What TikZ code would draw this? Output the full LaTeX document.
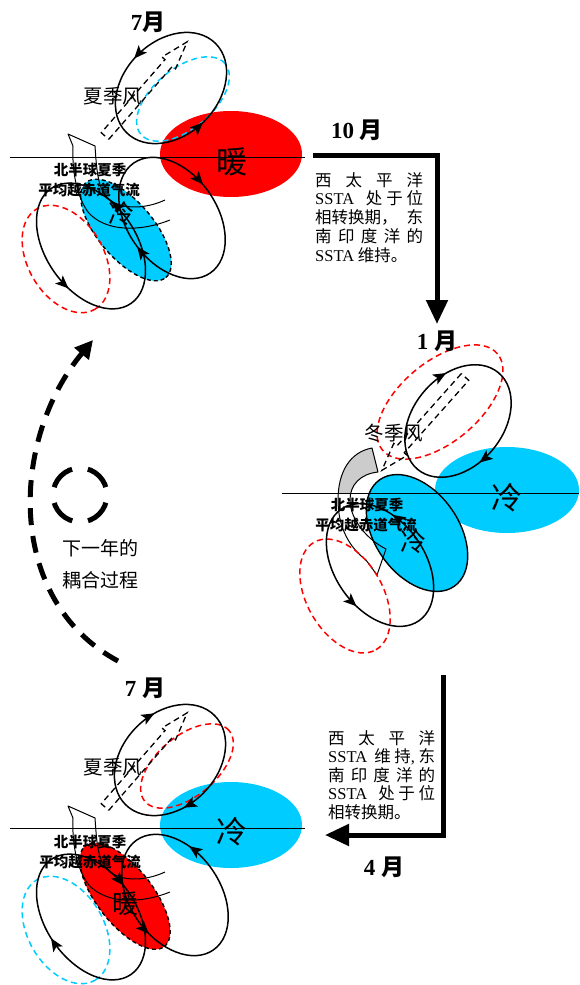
\documentclass[tikz,border=0pt]{standalone}
\usepackage{fontspec}
\setmainfont{Liberation Serif}
\newfontfamily\cjk{Noto Sans CJK SC}
\usetikzlibrary{arrows.meta,decorations.markings}
\definecolor{warmred}{RGB}{255,0,0}
\definecolor{coldblue}{RGB}{0,204,255}
\definecolor{bandgray}{RGB}{204,204,204}

\tikzset{
  gtip/.tip={Stealth[length=13pt,width=11pt,inset=3pt]},
  gyre/.style={draw=black, line width=1.5pt},
  fwd/.style={postaction={decorate, decoration={markings, mark=at position #1 with {\arrow{gtip}}}}},
  bwd/.style={postaction={decorate, decoration={markings, mark=at position #1 with {\arrowreversed{gtip}}}}},
  ringred/.style={draw=warmred, line width=1.5pt, dash pattern=on 6pt off 4pt},
  ringcyan/.style={draw=coldblue, line width=1.5pt, dash pattern=on 6pt off 4pt},
  patch/.style={draw=black, line width=1.4pt, dash pattern=on 4pt off 3pt},
  equator/.style={draw=black, line width=1pt},
  monsoon/.style={draw=black, line width=1.3pt, dash pattern=on 6pt off 4pt},
  band/.style={draw=black, line width=1pt, line join=round},
  bigarrow/.style={draw=black, line width=5pt, line join=miter, -{Triangle[length=24pt,width=21pt]}},
  nextyear/.style={draw=black, line width=5pt, dash pattern=on 17pt off 11pt, -{Triangle[length=18pt,width=18pt]}},
  title/.style={font=\fontsize{23}{26}\selectfont\bfseries, inner sep=0pt},
  bigword/.style={font=\cjk\fontsize{31}{33}\selectfont, inner sep=0pt},
  midword/.style={font=\cjk\fontsize{26}{28}\selectfont, inner sep=0pt},
  wind/.style={font=\cjk\fontsize{19.5}{22}\selectfont, inner sep=0pt},
  flow/.style={font=\cjk\bfseries\fontsize{14.5}{16}\selectfont, inner sep=0pt},
  para/.style={font=\cjk\fontsize{16.5}{18}\selectfont, inner sep=0pt, anchor=base west},
  story/.style={font=\cjk\fontsize{19}{22}\selectfont, inner sep=0pt},
}

% slim dashed block arrow: tail point, heading angle, length
\newcommand\monsoonarrow[3]{%
  \begin{scope}[shift={#1}, rotate=#2]
    \draw[monsoon] (0,5) -- (#3-28,5) -- (#3-28,9) -- (#3,0) -- (#3-28,-9) -- (#3-28,-5) -- (0,-5) -- cycle;
  \end{scope}}

% summer cross-equatorial flow band (open at its tail)
\def\summerband{(170,220) .. controls (140,232) and (105,232) .. (88,212)
  .. controls (76,195) and (72,170) .. (73,146) -- (68,134) -- (95,146)
  .. controls (97,175) and (98,195) .. (115,203) .. controls (130,210) and (150,207) .. (165,200)}
% winter cross-equatorial flow band
\def\winterband{(372,448) .. controls (350,452) and (338,472) .. (338,500)
  .. controls (338,528) and (350,548) .. (366,560) -- (377,575) -- (386,549)
  .. controls (368,540) and (350,520) .. (350,500) .. controls (350,485) and (360,474) .. (378,472) -- cycle}

\begin{document}
\begin{tikzpicture}[x=1pt,y=-1pt]
\useasboundingbox (0,0) rectangle (579,985);
\fill[white] (0,0) rectangle (579,985);

% ================= July (top) =================
\fill[warmred] (231,154) ellipse [x radius=71pt, y radius=43pt];
\filldraw[fill=coldblue, patch, rotate around={-50:(126,230)}] (126,230) ellipse [x radius=62pt, y radius=28pt];
\coordinate (eqAl) at (10,157); \coordinate (eqAr) at (305,157);
\draw[equator] (eqAl) -- (eqAr);
\draw[ringcyan, rotate around={40:(183,99)}] (183,99) ellipse [x radius=55pt, y radius=30pt];
\draw[ringred, rotate around={-60:(66,259)}] (66,259) ellipse [x radius=58pt, y radius=38pt];
\draw[gyre, rotate around={45:(171,88)}, fwd=0.265, fwd=0.745] (171,88) ellipse [x radius=63pt, y radius=47pt];
\draw[gyre, rotate around={-55:(172,218)}, bwd=0.277, bwd=0.76] (172,218) ellipse [x radius=67pt, y radius=45pt];
\draw[gyre, rotate around={-55:(91,246)}, fwd=0.317, fwd=0.81] (91,246) ellipse [x radius=70pt, y radius=45pt];
\draw[band] \summerband;
\monsoonarrow{(105,136)}{48.9}{125}

\node[title] (julA) at (148,22) {7{\cjk 月}};
\node[wind] (windA) at (113,96) {夏季风};
\node[flow] (flowA1) at (90,170) {北半球夏季};
\node[flow] (flowA2) at (89,190) {平均越赤道气流};
\node[bigword] (warmA) at (232,162) {暖};
\node[midword] (coldA) at (121,214) {冷};

% arrow July -> October -> January
\coordinate (stA) at (313,155); \coordinate (stB) at (437,155); \coordinate (stC) at (437,324);
\draw[bigarrow] (stA) -- (stB) -- (stC);
\node[title] (octA) at (357,130) {10 {\cjk 月}};
\node[para] (pa1) at (315,186) {\makebox[108pt][s]{西\hfill 太\hfill 平\hfill 洋}};
\node[para] (pa2) at (315,204.5) {\makebox[108pt][s]{{\rmfamily SSTA}\hspace{0pt plus 3fill}处\hspace{0pt plus 1fill}于\hspace{0pt plus 1fill}位}};
\node[para] (pa3) at (315,223) {\makebox[108pt][s]{相转换期，\hfill 东}};
\node[para] (pa4) at (315,242) {\makebox[108pt][s]{南\hfill 印\hfill 度\hfill 洋\hfill 的}};
\node[para] (pa5) at (315,261) {{\rmfamily SSTA} 维持。};

% ================= January (right) =================
\fill[coldblue] (507,490) ellipse [x radius=72pt, y radius=43pt];
\filldraw[fill=coldblue, draw=black, line width=1.4pt, rotate around={-55:(417,533)}] (417,533) ellipse [x radius=65pt, y radius=42pt];
\begin{scope}
  \clip (282,400) rectangle (420,493);
  \fill[bandgray] \winterband;
\end{scope}
\draw[band] \winterband;
\coordinate (eqBl) at (282,493); \coordinate (eqBr) at (579,493);
\draw[equator] (eqBl) -- (eqBr);
\draw[ringred, rotate around={40:(440,402)}] (440,402) ellipse [x radius=75pt, y radius=40pt];
\draw[ringred, rotate around={-60:(345,596)}] (345,596) ellipse [x radius=62pt, y radius=38pt];
\draw[gyre, rotate around={50:(458,421)}, bwd=0.163, bwd=0.697] (458,421) ellipse [x radius=63pt, y radius=45pt];
\draw[gyre, rotate around={-55:(380,565)}, fwd=0.347, fwd=0.807] (380,565) ellipse [x radius=68pt, y radius=45pt];
\monsoonarrow{(465,377)}{-131.7}{125}

\node[title] (janB) at (437,341) {1 {\cjk 月}};
\node[wind] (windB) at (394,433) {冬季风};
\node[flow] (flowB1) at (367,505) {北半球夏季};
\node[flow] (flowB2) at (366,525) {平均越赤道气流};
\node[bigword] (coldB1) at (507,498) {冷};
\node[midword] (coldB2) at (413,542) {冷};

% arrow January -> April -> July
\coordinate (ndA) at (443,675); \coordinate (ndB) at (443,835); \coordinate (ndC) at (325,835);
\draw[bigarrow] (ndA) -- (ndB) -- (ndC);
\node[title] (aprC) at (384,867) {4 {\cjk 月}};
\node[para] (pc1) at (328,744) {\makebox[107pt][s]{西\hfill 太\hfill 平\hfill 洋}};
\node[para] (pc2) at (328,762.5) {\makebox[107pt][s]{{\rmfamily SSTA}\hspace{0pt plus 2fill}维\hspace{0pt plus 1fill}持{\rmfamily ,}\hspace{0pt plus 1fill}东}};
\node[para] (pc3) at (328,781) {\makebox[107pt][s]{南\hfill 印\hfill 度\hfill 洋\hfill 的}};
\node[para] (pc4) at (328,799.5) {\makebox[107pt][s]{{\rmfamily SSTA}\hspace{0pt plus 3fill}处\hspace{0pt plus 1fill}于\hspace{0pt plus 1fill}位}};
\node[para] (pc5) at (328,818) {相转换期。};

% ================= next July (bottom) =================
\fill[coldblue] (231,825) ellipse [x radius=71pt, y radius=43pt];
\filldraw[fill=warmred, patch, rotate around={-52:(125,896)}] (125,896) ellipse [x radius=64pt, y radius=28pt];
\coordinate (eqCl) at (10,828); \coordinate (eqCr) at (305,828);
\draw[equator] (eqCl) -- (eqCr);
\draw[ringred, rotate around={40:(187,766)}] (187,766) ellipse [x radius=55pt, y radius=30pt];
\draw[ringcyan, rotate around={-60:(66,930)}] (66,930) ellipse [x radius=58pt, y radius=38pt];
\draw[gyre, rotate around={45:(170,760)}, bwd=0.186, bwd=0.68] (170,760) ellipse [x radius=63pt, y radius=47pt];
\draw[gyre, rotate around={-55:(175,895)}, fwd=0.341, fwd=0.797] (175,895) ellipse [x radius=67pt, y radius=45pt];
\draw[gyre, rotate around={-55:(91,917)}, bwd=0.27, bwd=0.735] (91,917) ellipse [x radius=70pt, y radius=45pt];
\begin{scope}[shift={(0,672)}]
  \draw[band] \summerband;
\end{scope}
\monsoonarrow{(105,807)}{48.9}{125}

\node[title] (julC) at (145,688) {7 {\cjk 月}};
\node[wind] (windC) at (113,767) {夏季风};
\node[flow] (flowC1) at (90,842) {北半球夏季};
\node[flow] (flowC2) at (90,862) {平均越赤道气流};
\node[bigword] (coldC) at (232,832) {冷};
\node[midword] (warmC) at (125,904) {暖};

% ================= coupling into the following year =================
\coordinate (nyA) at (118,661); \coordinate (nyB) at (93,340);
\draw[nextyear] (nyA) .. controls (5,600) and (10,440) .. (nyB);
\coordinate (swirl) at (80,495);
\draw[black, line width=5pt, dash pattern=on 26.4pt off 16pt, dash phase=34.4pt] (swirl) circle [radius=27pt];
\node[story] (cap1) at (100,548) {下一年的};
\node[story] (cap2) at (100,580) {耦合过程};
\end{tikzpicture}
\end{document}
